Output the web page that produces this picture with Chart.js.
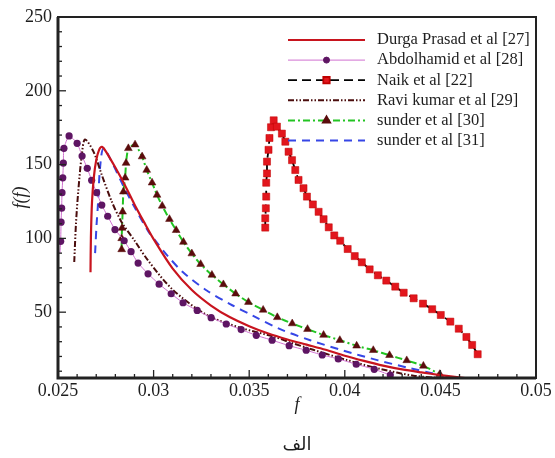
<!DOCTYPE html>
<html>
<head>
<meta charset="utf-8">
<script src="https://cdn.jsdelivr.net/npm/chart.js@4.4.0/dist/chart.umd.min.js"></script>
<style>
  html, body { margin: 0; padding: 0; background: #fff; }
</style>
</head>
<body>
<canvas id="chart" width="555" height="458"></canvas>
<script>
// Подписи осей
const xTicks = [0.025, 0.03, 0.035, 0.04, 0.045, 0.05];
const yTicks = [50, 100, 150, 200, 250];
const seriesNames = [
    "Durga Prasad et al [27]",
    "Abdolhamid et al [28]",
    "Naik et al [22]",
    "Ravi kumar et al [29]",
    "sunder et al [30]",
    "sunder et al [31]",
];

// Durga Prasad
const durgaF = [0.0267, 0.02672, 0.02678, 0.02688, 0.027, 0.02715, 0.0273, 0.0275, 0.028, 0.0285, 0.029, 0.0295, 0.03, 0.031, 0.032, 0.033, 0.034, 0.035, 0.036, 0.037, 0.038, 0.039, 0.04, 0.041, 0.042, 0.043, 0.044, 0.045, 0.0465];
const durgaFF = [77, 100, 125, 142, 153, 160, 162, 159, 148, 136, 123, 111, 99.5, 79.5, 65, 54.5, 46.5, 40.5, 35.5, 31.5, 28, 24.5, 20.5, 17, 13.8, 11.2, 9.2, 7.4, 5];

// Abdolhamid
const abdolF = [0.0251, 0.02514, 0.02516, 0.02519, 0.02521, 0.02525, 0.02528, 0.02531, 0.02558, 0.026, 0.02626, 0.02653, 0.02676, 0.02702, 0.02729, 0.0276, 0.02798, 0.02846, 0.02882, 0.02919, 0.02971, 0.03029, 0.03092, 0.03154, 0.03228, 0.03301, 0.0338, 0.03458, 0.03537, 0.0362, 0.03709, 0.03798, 0.03882, 0.03966, 0.0406, 0.04154, 0.04238];
const abdolFF = [90, 98, 111, 120.5, 131, 141, 151, 161, 169.4, 164.4, 155.8, 147.5, 139.4, 131, 122.6, 115, 106, 98.4, 91, 83.3, 76, 69, 62.5, 56.4, 51.2, 46.3, 42, 38.2, 34.3, 31, 27.3, 24.2, 21, 18.3, 14.7, 11.3, 7.4];

// Naik
const naikF = [0.03584, 0.03584, 0.03587, 0.03589, 0.03589, 0.03593, 0.03593, 0.03601, 0.03606, 0.03614, 0.03628, 0.03645, 0.03671, 0.03689, 0.03706, 0.03724, 0.03741, 0.03758, 0.03784, 0.03802, 0.03833, 0.03863, 0.03889, 0.03916, 0.03945, 0.03976, 0.04015, 0.04052, 0.04089, 0.0413, 0.04173, 0.04217, 0.04264, 0.04308, 0.0436, 0.04409, 0.04457, 0.04502, 0.04552, 0.04596, 0.04636, 0.04666, 0.04695];
const naikFF = [107.3, 113.6, 120.4, 128.3, 137.7, 144, 152, 160, 168, 175.3, 180, 175.7, 171, 165.5, 158.7, 153, 146.3, 139.6, 134, 128.3, 123, 118, 113, 107.5, 102, 98.4, 92.8, 88, 83.8, 79, 75, 71.4, 67.3, 63.2, 59.4, 55.8, 52, 48.1, 43.6, 38.8, 33.2, 27.8, 21.5];

// Ravi kumar
const raviF = [0.02585, 0.02594, 0.02606, 0.02624, 0.02641, 0.02685, 0.02729, 0.02781, 0.02833, 0.02903, 0.02971, 0.03102, 0.0328, 0.03453, 0.03626, 0.03715, 0.03835, 0.04013, 0.04186, 0.04359, 0.04484];
const raviFF = [84, 110, 132, 156, 167, 159, 143, 125, 111, 98, 85, 65, 48, 39.5, 33.5, 29.5, 24.5, 17.5, 11.5, 7, 5.5];

// sunder [30]
const sunder30F = [0.02833, 0.02833, 0.02835, 0.02838, 0.02842, 0.02851, 0.02856, 0.02868, 0.02903, 0.0294, 0.02964, 0.02992, 0.03018, 0.03045, 0.03083, 0.03118, 0.03156, 0.032, 0.03246, 0.03305, 0.03365, 0.03429, 0.03496, 0.03573, 0.03647, 0.03725, 0.03805, 0.03889, 0.03974, 0.04062, 0.04149, 0.04234, 0.04324, 0.04411, 0.04497];
const sunder30FF = [92.5, 100, 107, 118, 131.6, 141, 151, 161, 163.5, 155.4, 146.3, 137.7, 129.4, 122, 113, 105.5, 97.5, 89.7, 82.5, 75.2, 68.8, 62.5, 56.8, 51.5, 46.5, 42.3, 38.5, 34.5, 31, 27.2, 24.2, 20.8, 17.3, 13.6, 8];

// sunder [31]
const sunder31F = [0.02694, 0.02702, 0.02708, 0.0272, 0.02738, 0.02788, 0.0284, 0.02903, 0.02971, 0.03018, 0.03071, 0.03154, 0.0328, 0.034, 0.03521, 0.03662, 0.03819, 0.03992, 0.0417, 0.04343, 0.04463];
const sunder31FF = [90, 110, 121, 148, 161, 150, 136, 120.5, 105, 97, 88.5, 77, 64.5, 55.5, 47.5, 38.5, 31, 24, 17.5, 12, 8.5];

const serif = "'Liberation Serif', 'Times New Roman', 'DejaVu Sans', serif";
const textColor = "#1e1e1e";

function pts(xs, ys) {
    return xs.map((x, i) => ({ x: x, y: ys[i] }));
}

// рамка, внутренние деления и легенда
const framePlugin = {
    id: "framePlugin",
    afterDatasetsDraw(chart) {
        const ctx = chart.ctx;
        const a = chart.chartArea;
        const xs = chart.scales.x;
        const ys = chart.scales.y;
        ctx.save();
        ctx.setLineDash([]);
        ctx.strokeStyle = "#222";
        ctx.lineWidth = 1.3;
        for (let i = 25; i <= 50; i++) {
            const px = xs.getPixelForValue(i / 1000);
            const len = i % 5 === 0 ? 8 : 4;
            ctx.beginPath();
            ctx.moveTo(px, a.bottom);
            ctx.lineTo(px, a.bottom - len);
            ctx.stroke();
        }
        for (let v = 10; v <= 250; v += 10) {
            if (v < ys.min) continue;
            const py = ys.getPixelForValue(v);
            const len = v % 50 === 0 ? 8 : 4;
            ctx.beginPath();
            ctx.moveTo(a.left, py);
            ctx.lineTo(a.left + len, py);
            ctx.stroke();
        }
        ctx.lineWidth = 2;
        ctx.strokeRect(a.left, a.top, a.right - a.left, a.bottom - a.top);
        ctx.lineWidth = 3;
        ctx.beginPath();
        ctx.moveTo(a.left, a.top);
        ctx.lineTo(a.left, a.bottom);
        ctx.lineTo(a.right, a.bottom);
        ctx.stroke();

        // легенда
        const x0 = 288, x1 = 365, tx = 377;
        chart.data.datasets.forEach((ds, i) => {
            const y = 40 + i * 20.1;
            ctx.strokeStyle = ds.borderColor;
            ctx.lineWidth = ds.borderWidth;
            ctx.setLineDash(ds.borderDash || []);
            ctx.beginPath();
            ctx.moveTo(x0, y);
            ctx.lineTo(x1, y);
            ctx.stroke();
            ctx.setLineDash([]);
            if (ds.legendMarker) {
                ctx.fillStyle = ds.pointBackgroundColor;
                ctx.strokeStyle = ds.pointBorderColor;
                Chart.helpers.drawPoint(ctx, {
                    pointStyle: ds.pointStyle,
                    radius: ds.legendMarker,
                    rotation: 0,
                    borderWidth: 0.5,
                }, (x0 + x1) / 2, y);
            }
            ctx.fillStyle = textColor;
            ctx.font = "16.5px " + serif;
            ctx.textBaseline = "middle";
            ctx.textAlign = "left";
            ctx.fillText(ds.label, tx, y);
        });
        ctx.restore();
    },
};

const ctx = document.getElementById("chart").getContext("2d");
new Chart(ctx, {
    type: "line",
    data: {
        datasets: [
            {
                label: seriesNames[0],
                data: pts(durgaF, durgaFF),
                borderColor: "#c8141e",
                borderWidth: 2.2,
                pointRadius: 0,
                tension: 0.3,
            },
            {
                label: seriesNames[1],
                data: pts(abdolF, abdolFF),
                borderColor: "#d070d0",
                borderWidth: 1,
                pointStyle: "circle",
                pointRadius: (c) => (c.dataIndex === 0 ? 0 : 3.6),
                pointBackgroundColor: "#5e1563",
                pointBorderColor: "#5e1563",
                pointBorderWidth: 0,
                legendMarker: 3,
                tension: 0.2,
            },
            {
                label: seriesNames[2],
                data: pts(naikF, naikFF),
                borderColor: "#000000",
                borderDash: [9, 5],
                borderWidth: 1.8,
                pointStyle: "rect",
                pointRadius: 5,
                pointBackgroundColor: "#e2161d",
                pointBorderColor: "#c00000",
                pointBorderWidth: 0.5,
                legendMarker: 4.5,
                tension: 0,
            },
            {
                label: seriesNames[3],
                data: pts(raviF, raviFF),
                borderColor: "#4b0d0d",
                borderDash: [6, 2, 1.5, 2, 1.5, 2],
                borderWidth: 2,
                pointRadius: 0,
                tension: 0.3,
            },
            {
                label: seriesNames[4],
                data: pts(sunder30F, sunder30FF),
                borderColor: "#22c422",
                borderDash: [7, 3, 2, 3],
                borderWidth: 2,
                pointStyle: "triangle",
                pointRadius: 4.5,
                pointBackgroundColor: "#5a0c0c",
                pointBorderColor: "#5a0c0c",
                pointBorderWidth: 0.5,
                legendMarker: 4,
                tension: 0.2,
            },
            {
                label: seriesNames[5],
                data: pts(sunder31F, sunder31FF),
                borderColor: "#3646e6",
                borderDash: [8, 6],
                borderWidth: 2,
                pointRadius: 0,
                tension: 0.3,
            },
        ],
    },
    options: {
        responsive: false,
        animation: false,
        devicePixelRatio: 1,
        layout: { padding: { top: 17, right: 19, left: 0, bottom: 0 } },
        plugins: {
            legend: { display: false },
            tooltip: { enabled: false },
            title: {
                display: true,
                fullSize: false,
                position: "bottom",
                text: "الف",
                color: textColor,
                font: { family: serif, size: 18, weight: "normal" },
                padding: { top: 18.4, bottom: 2 },
            },
        },
        scales: {
            x: {
                type: "linear",
                min: 0.025,
                max: 0.05,
                afterBuildTicks: (s) => {
                    s.ticks = xTicks.map((v) => ({ value: v }));
                },
                afterFit: (s) => {
                    s.height = 38;
                },
                grid: { display: false, drawTicks: false },
                border: { display: false },
                ticks: {
                    color: textColor,
                    font: { family: serif, size: 18 },
                    padding: 2,
                    maxRotation: 0,
                    autoSkip: false,
                    callback: (v) => String(+v.toFixed(3)),
                },
                title: {
                    display: true,
                    text: "f",
                    color: textColor,
                    font: { family: serif, size: 18, style: "italic" },
                    padding: 0,
                },
            },
            y: {
                type: "linear",
                min: 5.4,
                max: 250,
                afterBuildTicks: (s) => {
                    s.ticks = yTicks.map((v) => ({ value: v }));
                },
                afterFit: (s) => {
                    s.width = 58;
                },
                grid: { display: false, drawTicks: false },
                border: { display: false },
                ticks: {
                    color: textColor,
                    font: { family: serif, size: 18 },
                    padding: 6,
                },
                title: {
                    display: true,
                    text: "f(f)",
                    color: textColor,
                    font: { family: serif, size: 18, style: "italic" },
                    padding: { top: 10, bottom: 0 },
                },
            },
        },
    },
    plugins: [framePlugin],
});
</script>
</body>
</html>
